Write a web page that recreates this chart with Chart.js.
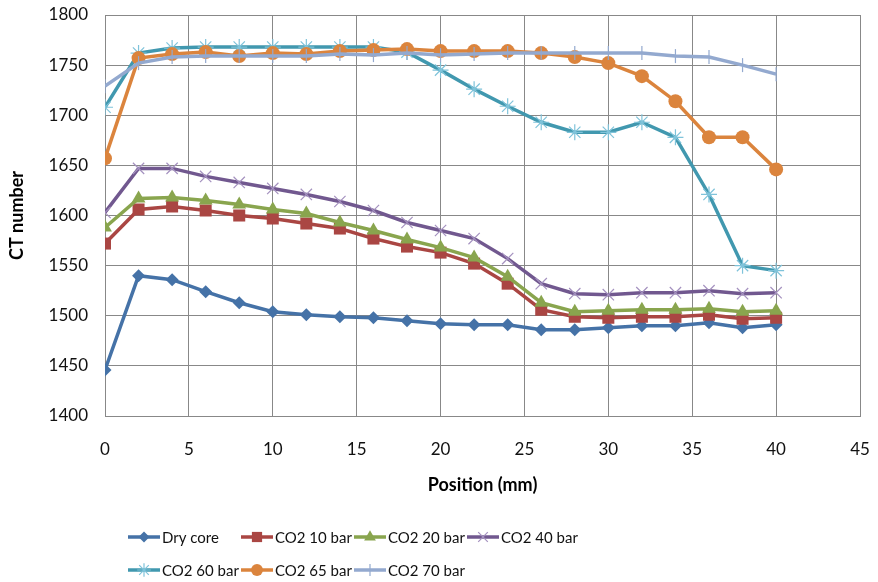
<!DOCTYPE html>
<html>
<head>
<meta charset="utf-8">
<script src="https://cdn.jsdelivr.net/npm/chart.js@4/dist/chart.umd.min.js"></script>
<style>
  html, body { margin: 0; padding: 0; background: #fff; }
  #wrap { width: 878px; height: 582px; }
</style>
</head>
<body>
<div id="wrap"><canvas id="chart"></canvas></div>
<script>
// DATA
// -----------------------------------------------------------------------------
var positions = [0, 2, 4, 6, 8, 10, 12, 14, 16, 18, 20, 22, 24, 26, 28, 30, 32, 34, 36, 38, 40];

var dryCore = [1446, 1540, 1536, 1524, 1513, 1504, 1501, 1499, 1498, 1495, 1492, 1491, 1491, 1486, 1486, 1488, 1490, 1490, 1493, 1488, 1491];
var co2Bar10 = [1572, 1606, 1609, 1605, 1600, 1597, 1592, 1587, 1577, 1569, 1563, 1552, 1532, 1506, 1499, 1498, 1499, 1499, 1501, 1497, 1498];
var co2Bar20 = [1588, 1617, 1618, 1615, 1611, 1606, 1602, 1593, 1585, 1576, 1568, 1558, 1539, 1513, 1504, 1505, 1506, 1506, 1507, 1504, 1505];
var co2Bar40 = [1603, 1647, 1647, 1639, 1633, 1627, 1621, 1614, 1605, 1593, 1585, 1577, 1557, 1532, 1522, 1521, 1523, 1523, 1525, 1522, 1523];
var co2Bar60 = [1708, 1762, 1767, 1768, 1768, 1768, 1768, 1768, 1768, 1763, 1745, 1726, 1709, 1693, 1683, 1683, 1693, 1678, 1621, 1550, 1545];
var co2Bar65 = [1657, 1757, 1761, 1763, 1759, 1762, 1761, 1764, 1765, 1766, 1764, 1764, 1764, 1762, 1758, 1752, 1739, 1714, 1678, 1678, 1646];
var co2Bar70 = [1729, 1752, 1758, 1759, 1759, 1759, 1759, 1761, 1760, 1762, 1760, 1761, 1762, 1762, 1762, 1762, 1762, 1759, 1758, 1750, 1741];

var seriesNames = ["Dry core", "CO2 10 bar", "CO2 20 bar", "CO2 40 bar", "CO2 60 bar", "CO2 65 bar", "CO2 70 bar"];
var seriesValues = [dryCore, co2Bar10, co2Bar20, co2Bar40, co2Bar60, co2Bar65, co2Bar70];

var xTicks = { min: 0, max: 45, step: 5 };
var yTicks = { min: 1400, max: 1800, step: 50 };

// STYLE
// -----------------------------------------------------------------------------
var lineColors = ["#4572A7", "#AA4643", "#89A54E", "#71588F", "#4198AF", "#DB843D", "#93A9CF"];
var markerColors = ["#4572A7", "#AA4643", "#89A54E", "#A491BF", "#7FC3DA", "#DB843D", "#93A9CF"];
var markerStyles = ["rectRot", "rect", "triangle", "crossRot", "star", "circle", "line"];
var markerRadius = [6.5, 8.5, 8, 8, 8, 7, 7];
var markerRotation = [0, 0, 0, 0, 0, 0, 90];

var gridGray = "#888888";
var fontFamily = "Lato, 'Liberation Sans', sans-serif";

Chart.defaults.font.family = fontFamily;
Chart.defaults.font.size = 17;
Chart.defaults.color = "#111";

function pairUp(values) {
    return positions.map(function(p, i) {
        return { x: p, y: values[i] };
    });
}

var datasets = seriesValues.map(function(values, i) {
    var filled = markerStyles[i] === "rectRot" || markerStyles[i] === "rect" ||
                 markerStyles[i] === "triangle" || markerStyles[i] === "circle";
    return {
        label: seriesNames[i],
        data: pairUp(values),
        borderColor: lineColors[i],
        borderWidth: 3.5,
        backgroundColor: markerColors[i],
        pointStyle: markerStyles[i],
        pointRadius: markerRadius[i],
        pointRotation: markerRotation[i],
        pointBackgroundColor: markerColors[i],
        pointBorderColor: markerColors[i],
        pointBorderWidth: filled ? 0 : 1.2,
        tension: 0,
        fill: false,
        // later series sit on top
        order: seriesValues.length - i
    };
});

// Legend in fixed columns, two rows, under the axis title
var gridLegend = {
    id: "gridLegend",
    afterDraw: function(chart) {
        var ctx = chart.ctx;
        var left = 128, colWidth = 113, rowTop = 537, rowGap = 33, lineLen = 32;
        ctx.save();
        chart.data.datasets.forEach(function(ds, i) {
            var col = i % 4, row = Math.floor(i / 4);
            var x = left + col * colWidth;
            var y = rowTop + row * rowGap;
            ctx.strokeStyle = ds.borderColor;
            ctx.lineWidth = 3.5;
            ctx.beginPath();
            ctx.moveTo(x, y);
            ctx.lineTo(x + lineLen, y);
            ctx.stroke();

            ctx.fillStyle = ds.pointBackgroundColor;
            ctx.strokeStyle = ds.pointBorderColor;
            ctx.lineWidth = ds.pointBorderWidth;
            Chart.helpers.drawPoint(ctx, {
                pointStyle: ds.pointStyle,
                radius: ds.pointRadius * 0.85,
                rotation: ds.pointRotation,
                borderWidth: ds.pointBorderWidth
            }, x + lineLen / 2, y);

            ctx.fillStyle = "#111";
            ctx.font = "15px " + fontFamily;
            ctx.textAlign = "left";
            ctx.textBaseline = "middle";
            ctx.fillText(ds.label, x + lineLen + 2, y + 1);
        });
        ctx.restore();
    }
};

// CHART
// -----------------------------------------------------------------------------
var chart = new Chart(document.getElementById("chart"), {
    type: "line",
    data: { datasets: datasets },
    plugins: [gridLegend],
    options: {
        responsive: true,
        maintainAspectRatio: false,
        animation: false,
        layout: { padding: { top: 15, right: 18, bottom: 76, left: 0 } },
        plugins: {
            legend: { display: false },
            tooltip: { enabled: false }
        },
        scales: {
            x: {
                type: "linear",
                min: xTicks.min,
                max: xTicks.max,
                afterFit: function(scale) {
                    scale.height = 90;
                    scale.paddingLeft = 0;
                    scale.paddingRight = 0;
                },
                ticks: { stepSize: xTicks.step, padding: 23, maxRotation: 0 },
                grid: { color: gridGray, lineWidth: 1, drawTicks: false },
                border: { color: gridGray, width: 1 },
                title: {
                    display: true,
                    text: "Position (mm)",
                    font: { size: 18, weight: "bold" },
                    color: "#000",
                    padding: { top: 0, bottom: 10 }
                }
            },
            y: {
                type: "linear",
                min: yTicks.min,
                max: yTicks.max,
                afterFit: function(scale) {
                    scale.width = 105;
                    scale.paddingTop = 0;
                    scale.paddingBottom = 0;
                },
                ticks: {
                    stepSize: yTicks.step,
                    padding: 17,
                    callback: function(value) { return String(value); }
                },
                grid: { color: gridGray, lineWidth: 1, drawTicks: false },
                border: { color: gridGray, width: 1 },
                title: {
                    display: true,
                    text: "CT number",
                    font: { size: 18, weight: "bold" },
                    color: "#000",
                    padding: { top: 6, bottom: 0 }
                }
            }
        }
    }
});
</script>
</body>
</html>
